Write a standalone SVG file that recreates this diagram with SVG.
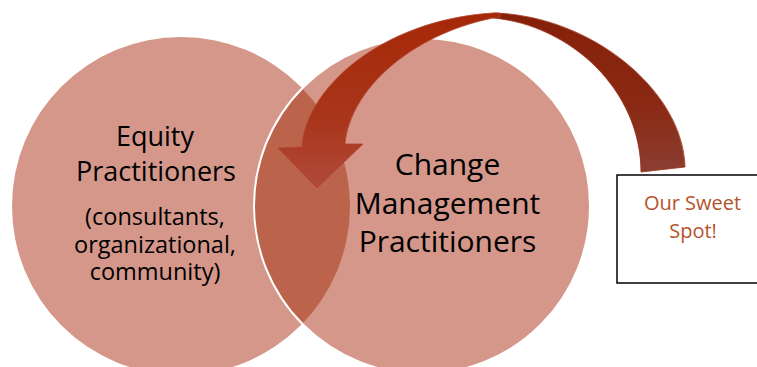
<svg xmlns="http://www.w3.org/2000/svg" width="757" height="367" viewBox="0 0 757 367">
  <style>
    .circle { fill: #D4978A; }
    .overlap { fill: #BC634C; }
    .head { font-family: "Open Sans", "Liberation Sans", sans-serif; fill: #000; text-anchor: middle; }
    .sub { font-family: "Open Sans", "Liberation Sans", sans-serif; fill: #000; text-anchor: middle; font-size: 23.5px; }
    .sweet { font-family: "Open Sans", "Liberation Sans", sans-serif; fill: #B5522C; text-anchor: middle; font-size: 20px; }
  </style>
  <defs>
    <clipPath id="clipLeft">
      <circle cx="181" cy="206" r="169"/>
    </clipPath>
    <linearGradient id="gFront" x1="0" y1="13" x2="0" y2="188" gradientUnits="userSpaceOnUse">
      <stop offset="0" stop-color="#A52808"/>
      <stop offset="0.6" stop-color="#A9351A"/>
      <stop offset="1" stop-color="#B04A3C"/>
    </linearGradient>
    <linearGradient id="gBack" x1="0" y1="13" x2="0" y2="172" gradientUnits="userSpaceOnUse">
      <stop offset="0" stop-color="#862008"/>
      <stop offset="0.6" stop-color="#8A2A14"/>
      <stop offset="1" stop-color="#8C3E33"/>
    </linearGradient>
  </defs>

  <g id="node-equity">
    <circle class="circle" cx="181" cy="206" r="169"/>
  </g>
  <g id="node-change">
    <circle class="circle" cx="422" cy="206" r="168"/>
    <circle class="overlap" cx="422" cy="206" r="168" clip-path="url(#clipLeft)"/>
    <circle cx="422" cy="206" r="168" fill="none" stroke="#FFFFFF" stroke-width="2"/>
  </g>

  <g id="connectors">
    <path d="M 493,13 C 590,15 683,90 685,167 L 641,172 C 641,90 570,25 493,18 Z" fill="url(#gBack)" stroke="#9A3018" stroke-width="0.8"/>
    <path d="M 500,13 L 493,13 C 380,20 305,90 302,147 L 278,148 L 317,188 L 363,144 L 345,144 C 350,90 410,35 493,18 L 500,17 Z" fill="url(#gFront)" stroke="#B3442E" stroke-width="0.8"/>
  </g>

  <g id="label-equity">
    <text class="head" font-size="27" x="155" y="146">Equity</text>
    <text class="head" font-size="27" x="156" y="181">Practitioners</text>
    <text class="sub" x="155" y="225">(consultants,</text>
    <text class="sub" x="155" y="253">organizational,</text>
    <text class="sub" x="155" y="280">community)</text>
  </g>

  <g id="label-change">
    <text class="head" font-size="30" x="447.5" y="175">Change</text>
    <text class="head" font-size="30" x="447.5" y="214">Management</text>
    <text class="head" font-size="30" x="447.5" y="252">Practitioners</text>
  </g>

  <g id="node-sweet-spot">
    <rect x="617" y="175" width="145" height="108" fill="#FFFFFF" stroke="#000000" stroke-width="1.5"/>
    <text class="sweet" x="692.5" y="210">Our Sweet</text>
    <text class="sweet" x="693" y="238">Spot!</text>
  </g>
</svg>
